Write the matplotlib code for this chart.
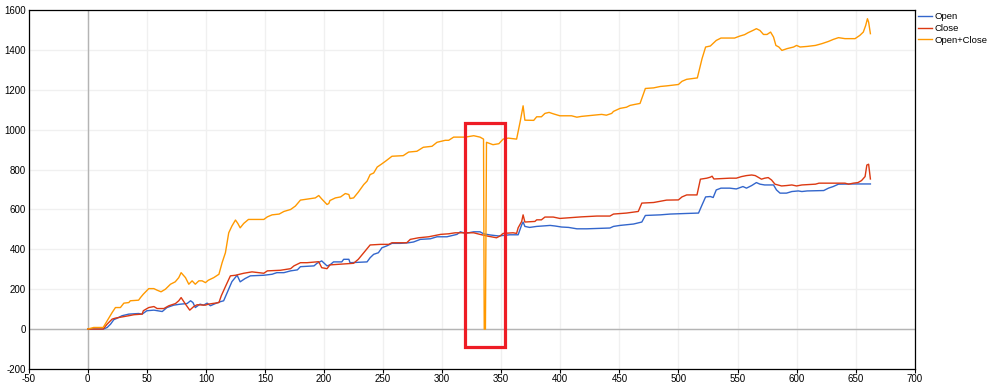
import matplotlib
matplotlib.use("Agg")
import matplotlib.pyplot as plt
from matplotlib.patches import Rectangle

plt.rcParams['font.family'] = ['Liberation Sans', 'DejaVu Sans']
plt.rcParams['axes.unicode_minus'] = False

# Open
open_x = [0, 13, 16.4, 19.3, 22, 25, 29, 34.7, 43, 46, 50, 56, 63, 67, 72.7, 78.4, 84, 87, 89, 91,
          95, 98, 101, 103.8, 108, 112, 115, 118, 122, 126.4, 129, 133, 137.6, 149, 156, 160, 166,
          171.7, 177.4, 180, 191.5, 194, 198, 202.5, 205, 208, 215, 216.6, 221, 222, 236.4, 239,
          242, 246, 249, 253, 257.5, 264.6, 271.6, 275.8, 281.5, 290, 295.6, 304, 312.5, 315.4,
          319.6, 326.7, 332, 335, 340.7, 347.8, 352, 357.3, 364.3, 367.3, 368.5, 370, 374, 380,
          387, 391.4, 395.7, 401, 407, 414, 422.4, 442, 445, 450.5, 462, 469, 472, 484.6, 493, 507,
          517, 520, 523, 527, 529.4, 532, 536, 543.4, 549, 554.6, 557.6, 562, 566, 569, 573, 580.5,
          583, 586, 591.5, 596, 601.5, 604.5, 609, 623, 627, 631, 635.5, 649.5, 662.5]
open_y = [0, 0, 8, 25, 47, 55, 67, 75, 78, 75, 92, 95, 88, 108, 120, 125, 128, 142, 133, 108,
          125, 120, 130, 117, 128, 137, 142, 183, 238, 270, 237, 253, 267, 270, 275, 283, 283,
          292, 297, 313, 317, 330, 342, 317, 322, 337, 337, 350, 350, 333, 337, 358,
          375, 383, 408, 417, 430, 430, 433, 437, 450, 453, 463, 463, 475, 488,
          480, 488, 488, 478, 472, 467, 470, 473, 473, 523, 537, 515, 510, 515,
          518, 520, 517, 512, 510, 503, 503, 507, 515, 520, 527, 537, 570, 573, 577, 580,
          582, 623, 663, 665, 660, 698, 707, 707, 703, 715, 707, 720, 735, 727, 723, 723,
          698, 682, 682, 690, 693, 690, 693, 695, 707, 715, 727, 728, 728]

# Close
close_x = [0, 13, 16.4, 20.6, 23.4, 34.7, 39, 46, 47, 51.6, 56, 58.7, 64.4, 68.6, 74.2, 77, 79,
           82.7, 86.3, 89.7, 92.5, 99.6, 102, 111, 113, 116.5, 120.7, 125, 132, 139, 149, 152,
           163, 171.7, 174.5, 180, 185.6, 195.5, 198, 202.5, 205, 225, 229, 233.6, 239, 248,
           254.7, 257.5, 270, 273, 280, 288.5, 298.6, 305.5, 311, 326.7, 332, 338, 346, 349,
           351.6, 360, 363, 364.3, 367.3, 368.5, 370, 378.5, 380, 384, 387, 394, 399.6, 418, 431,
           442, 445, 456, 466, 469, 479, 490, 500, 503, 507, 515.7, 518.6, 524, 527, 528.5, 530,
           543.4, 549, 553.4, 557.6, 562, 565, 567.4, 570.3, 573, 576, 578.8, 581.7, 587.3, 591.5,
           596, 600, 604.5, 616, 619, 641, 644, 648, 652, 655, 658, 659.5, 661, 662.5]
close_y = [0, 0, 25, 50, 55, 67, 72, 75, 92, 108, 113, 103, 103, 117, 128, 142, 158,
           125, 95, 113, 122, 120, 125, 133, 167, 213, 267, 270, 280, 287, 280, 292,
           295, 303, 317, 333, 333, 338, 308, 303, 322, 330, 350, 383, 422, 425,
           425, 433, 433, 450, 458, 463, 475, 478, 483, 483, 475, 467, 458, 467,
           480, 483, 480, 508, 540, 573, 537, 540, 548, 548, 562, 562, 555, 563, 567,
           567, 577, 582, 590, 632, 635, 647, 648, 663, 673, 673, 752, 757, 762, 767, 753,
           757, 757, 765, 770, 773, 770, 762, 752, 757, 760, 748, 727, 718, 720,
           723, 718, 723, 727, 732, 732, 727, 732, 735, 745, 765, 823, 827, 753]

# Open+Close
sum_x = [0, 5, 13, 20.6, 23.4, 27.6, 30.5, 34.7, 36, 43, 44.6, 47, 51.6, 55.9, 58.7, 62, 65.7,
         70, 74, 77, 79, 82.7, 85.5, 88.3, 91, 94, 96.8, 99.6, 102, 106.6, 111, 113.7, 116.5,
         119.3, 122, 125, 127, 129, 132, 136, 149, 152, 156, 162, 166, 171.7, 175.7, 180, 187,
         192.6, 195.5, 198, 202.5, 204, 205, 209.6, 214, 218, 221, 222, 225, 229, 233.6, 236.4,
         239, 242, 245, 248, 252, 257.5, 267, 271.6, 278.6, 284, 291.4, 295.6, 302.6, 305.5,
         309.7, 319.6, 326.7, 332, 335, 335.6, 336.6, 337.5, 343, 348, 351.6, 355.9, 363,
         364.3, 366, 368.5, 370, 377.5, 380, 384, 387, 390.5, 394, 399.6, 409.5, 414, 418, 428,
         435, 439, 443.5, 445, 450.5, 456, 459, 463, 467.5, 469, 472, 479, 484.6, 490, 500, 503,
         507, 516, 520, 523, 527, 530, 532, 536, 547.5, 552, 556, 559, 563, 566, 569, 572, 575,
         578, 580.5, 582.5, 585, 587.6, 592, 597.5, 600, 603, 609, 616, 621.5, 627, 631, 635.5,
         641, 649.5, 653.5, 656.5, 658.5, 660, 661, 662.5]
sum_y = [0, 8, 8, 83, 108, 108, 130, 133, 142, 145, 158, 175, 203, 203, 195, 187, 200,
         225, 237, 258, 283, 258, 225, 242, 225, 242, 242, 233, 245, 258, 275, 333, 383,
         483, 517, 547, 530, 508, 530, 550, 550, 563, 573, 577, 590, 600, 617, 647, 653,
         658, 670, 653, 625, 630, 645, 658, 663, 680, 675, 655, 658, 687, 725, 742,
         775, 783, 813, 825, 842, 867, 870, 888, 892, 912, 917, 937, 947, 947,
         963, 963, 970, 963, 953, 0, 0, 937, 925, 930, 953, 958, 953,
         990, 1040, 1120, 1048, 1047, 1065, 1065, 1082, 1087, 1080, 1070, 1070, 1063, 1067, 1073,
         1077, 1073, 1082, 1092, 1107, 1113, 1122, 1127, 1132, 1157, 1207, 1210, 1217, 1220, 1227, 1243,
         1253, 1260, 1357, 1415, 1420, 1437, 1448, 1460, 1460, 1470, 1477, 1487, 1498, 1507, 1498, 1478, 1478,
         1490, 1465, 1423, 1415, 1398, 1407, 1415, 1423, 1415, 1418, 1423, 1432, 1443, 1453, 1462,
         1457, 1457, 1473, 1490, 1523, 1557, 1540, 1482]

# highlighted region
box_x0, box_x1 = 319.5, 353.5
box_y0, box_y1 = -88, 1032

fig = plt.figure(figsize=(9.91, 3.90), dpi=100)
ax = fig.add_axes([0.029, 0.054, 0.894, 0.920])

ax.plot(open_x, open_y, color='#3366cc', lw=1.0, label='Open', zorder=3)
ax.plot(close_x, close_y, color='#dc3912', lw=1.0, label='Close', zorder=3)
ax.plot(sum_x, sum_y, color='#ff9900', lw=1.0, label='Open+Close', zorder=3)

ax.axhline(0, color='#b4b4b4', lw=1.0, zorder=2)
ax.axvline(0, color='#b4b4b4', lw=1.0, zorder=2)

ax.add_patch(Rectangle((box_x0, box_y0), box_x1 - box_x0, box_y1 - box_y0,
                       fill=False, edgecolor='#ee1c25', lw=2.3, zorder=4))

ax.set_xlim(-50, 700)
ax.set_ylim(-200, 1600)
ax.set_xticks(range(-50, 701, 50))
ax.set_yticks(range(-200, 1601, 200))
ax.grid(True, color='#f0f0f0', lw=1.0, zorder=0)
ax.set_axisbelow(True)
ax.tick_params(axis='x', length=3, width=0.8, labelsize=7, pad=1)
ax.tick_params(axis='y', length=0, labelsize=7, pad=2)
for s in ax.spines.values():
    s.set_linewidth(0.9)
    s.set_color('black')

ax.legend(loc='upper left', bbox_to_anchor=(1.0, 1.005), frameon=False, fontsize=6.8,
          handlelength=1.4, handletextpad=0.35, labelspacing=0.3, borderaxespad=0.2,
          borderpad=0.2)

fig.savefig('out.png', dpi=100)
